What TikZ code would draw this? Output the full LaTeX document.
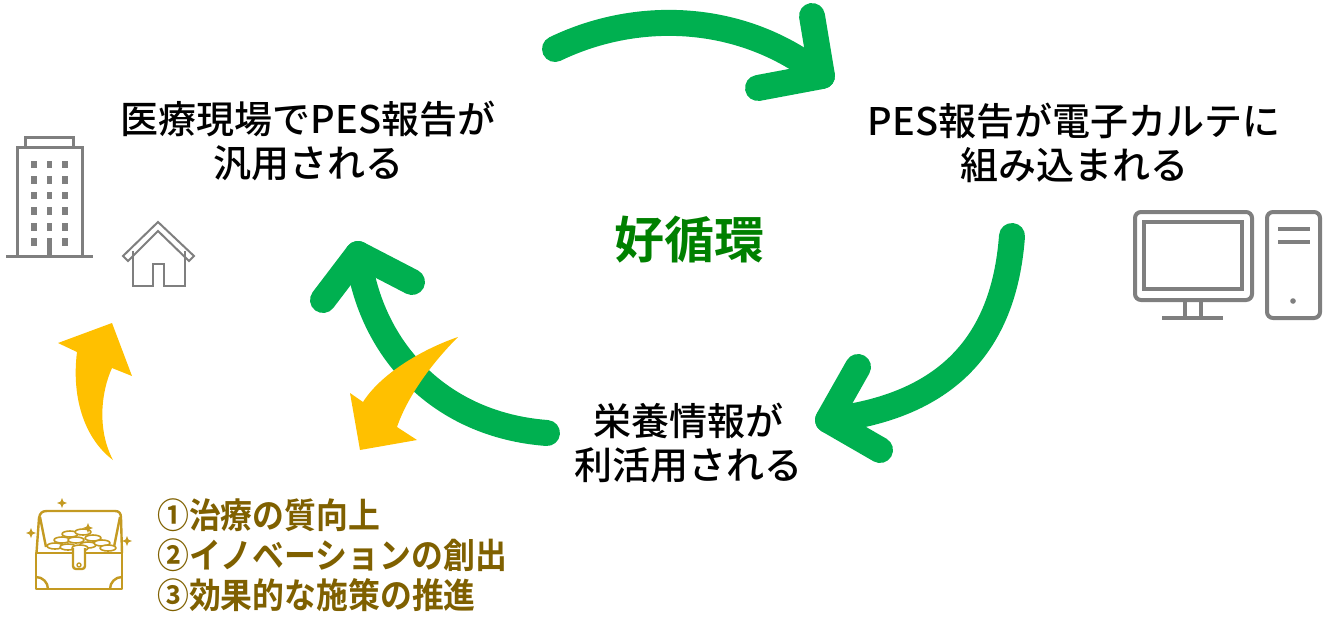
\documentclass[tikz,border=0pt]{standalone}
\usepackage{fontspec}
\setmainfont{Noto Sans CJK JP}[BoldFont={Noto Sans CJK JP Bold}]
\newfontfamily\jpmedium{Noto Sans CJK JP Medium}
\newfontfamily\jplist{Noto Sans CJK JP Bold}[FakeStretch=0.91]
\definecolor{cyclegreen}{HTML}{00B050}
\definecolor{titlegreen}{HTML}{008000}
\definecolor{accentyellow}{HTML}{FFC000}
\definecolor{listgold}{HTML}{7F6000}
\definecolor{chestgold}{HTML}{C49A22}
\definecolor{icongray}{HTML}{7F7F7F}
% four-pointed sparkle: centre x, centre y, radius
\newcommand{\gleam}[3]{%
  \fill[chestgold] (#1,#2-#3) -- (#1+#3*0.28,#2-#3*0.28) -- (#1+#3,#2)
    -- (#1+#3*0.28,#2+#3*0.28) -- (#1,#2+#3) -- (#1-#3*0.28,#2+#3*0.28)
    -- (#1-#3,#2) -- (#1-#3*0.28,#2-#3*0.28) -- cycle;}
\begin{document}
\begin{tikzpicture}[x=1pt,y=-1pt,
  cyclearrow/.style={draw=cyclegreen, line width=26pt, line cap=round, line join=round},
  label/.style={align=center, inner sep=0pt, font=\jpmedium\fontsize{38}{44}\selectfont},
  icon/.style={draw=icongray, line width=4pt},
  chest/.style={draw=chestgold, line width=2.4pt, line join=round}]
\useasboundingbox (0,0) rectangle (1329,616);

% ---- labels
\node[label] (use)    at (308,141) {医療現場でPES報告が\\汎用される};
\node[label] (ehr)    at (1074,143) {PES報告が電子カルテに\\組み込まれる};
\node[label] (nutri)  at (688,443) {栄養情報が\\利活用される};
\node[inner sep=0pt, text=titlegreen, font=\fontsize{50}{56}\selectfont\bfseries] (cycle) at (689,240) {好循環};
\node[anchor=west, align=left, inner sep=0pt, text=listgold,
      font=\jplist\fontsize{35}{40}\selectfont] (gains) at (157,555)
  {①治療の質向上\\②イノベーションの創出\\③効果的な施策の推進};

% ---- green cycle arrows
\coordinate (a1s) at (555,49);   \coordinate (a1t) at (822,76);
\coordinate (a1l) at (812,16);   \coordinate (a1r) at (758,88);
\draw[cyclearrow] (a1s) .. controls (640,8) and (745,14) .. (a1t);
\draw[cyclearrow] (a1l) -- (a1t) -- (a1r);

\coordinate (a2s) at (1012,236); \coordinate (a2t) at (828,420);
\coordinate (a2l) at (858,367);  \coordinate (a2r) at (880,450);
\draw[cyclearrow] (a2s) .. controls (1005,330) and (960,405) .. (a2t);
\draw[cyclearrow] (a2l) -- (a2t) -- (a2r);

\coordinate (a3s) at (547,433);  \coordinate (a3t) at (358,254);
\coordinate (a3l) at (323,300);  \coordinate (a3r) at (412,282);
\draw[cyclearrow] (a3s) .. controls (440,425) and (370,350) .. (a3t);
\draw[cyclearrow] (a3l) -- (a3t) -- (a3r);

% ---- yellow arrows
\fill[accentyellow] (112,323) -- (132,376) -- (112,368)
  .. controls (101,392) and (97,430) .. (113,460)
  .. controls (86,440) and (71,400) .. (77,352) -- (58,343) -- cycle;
\fill[accentyellow] (458,337) .. controls (433,362) and (408,395) .. (397,427)
  -- (417,440) -- (360,450) -- (350,393) -- (363,402)
  .. controls (380,375) and (420,350) .. cycle;

% ---- office building
\begin{scope}[draw=icongray, line width=3pt]
  \draw (25,137) rectangle (73,147);
  \draw (17,147) rectangle (82,256);
  \draw (6,256) -- (93,256);
\end{scope}
\foreach \wx in {31,46.5,62}
  \foreach \wy in {160.5,176,191.5,207.3,222.8}
    \fill[icongray] (\wx,\wy) rectangle (\wx+5.7,\wy+7.8);
\fill[icongray] (31,238.3) rectangle (36.7,246);
\fill[icongray] (62,238.3) rectangle (67.7,246);
\fill[icongray] (46.5,238.3) rectangle (52.2,256);

% ---- house
\begin{scope}[draw=icongray, line width=2pt, line join=miter]
  \draw (123,256) -- (158,222) -- (194,256) -- (189,261) -- (158,231) -- (128,261) -- cycle;
  \draw (133,251) -- (133,286) -- (153,286) -- (153,264) -- (164,264) -- (164,286) -- (185,286) -- (185,251);
\end{scope}

% ---- computer
\draw[icon, rounded corners=6pt] (1135,212) rectangle (1252,300);
\draw[icon] (1144,222) rectangle (1242,289);
\draw[icon] (1185,300) -- (1185,317);
\draw[icon] (1201,300) -- (1201,317);
\draw[icon] (1162,318) -- (1223,318);
\draw[icon, rounded corners=6pt] (1267,212) rectangle (1320,318);
\draw[icon] (1278,229) -- (1310,229);
\draw[icon] (1278,242) -- (1310,242);
\fill[icongray] (1293,301) circle[radius=2.8];

% ---- treasure chest
\draw[chest] (36.5,553) -- (39,518) .. controls (40,513) and (42,511) .. (47,511)
  -- (115,511) .. controls (119,511) and (121,513) .. (121,518) -- (122,553);
\draw[chest] (40,517) -- (46,547);
\draw[chest] (120,517) -- (114,547);
\foreach \cx/\cy in {70/534, 83/532, 62/540, 93/538, 76/540, 55/546, 88/545, 102/543, 68/547, 108/548, 80/548}
  \draw[chest, line width=1.6pt, fill=white] (\cx,\cy) ellipse[x radius=8, y radius=3];
\draw[chest, fill=white] (36,553) rectangle (122,589);
\draw[chest, rounded corners=3pt, fill=white] (73,548) -- (73,569) -- (85,569) -- (85,548);
\draw[chest, line width=1.4pt] (79,565) circle[radius=2];
\draw[chest] (36,577) arc[start angle=270, end angle=360, radius=12];
\draw[chest] (110,589) arc[start angle=180, end angle=270, radius=12];
\gleam{62}{503}{5}
\gleam{31}{533}{5}
\gleam{88}{528}{5}
\gleam{127}{541}{5}
\end{tikzpicture}
\end{document}
